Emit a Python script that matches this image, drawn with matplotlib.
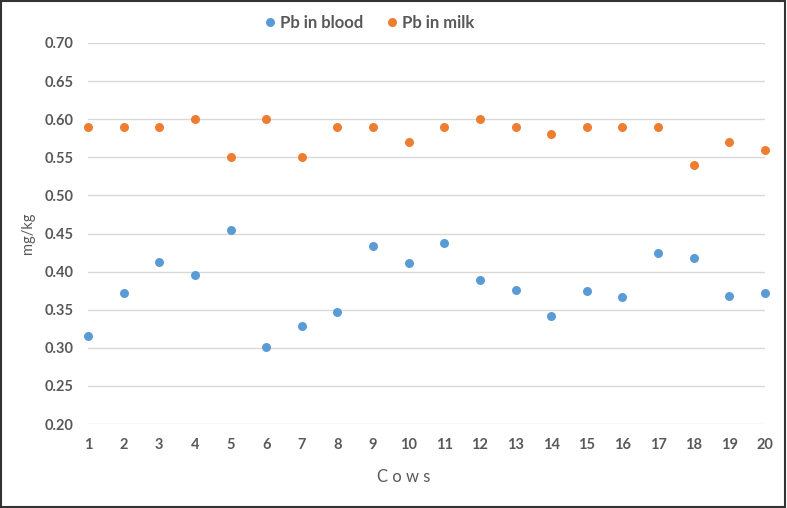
import matplotlib
matplotlib.use("Agg")
import matplotlib.pyplot as plt
from matplotlib.patches import Rectangle
from matplotlib.lines import Line2D

cows = list(range(1, 21))
pb_blood = [0.315, 0.372, 0.413, 0.395, 0.454, 0.301, 0.328, 0.347, 0.434, 0.411,
            0.438, 0.389, 0.376, 0.342, 0.375, 0.367, 0.424, 0.418, 0.368, 0.372]
pb_milk = [0.59, 0.59, 0.59, 0.60, 0.55, 0.60, 0.55, 0.59, 0.59, 0.57,
           0.59, 0.60, 0.59, 0.58, 0.59, 0.59, 0.59, 0.54, 0.57, 0.56]
yticks = [0.20, 0.25, 0.30, 0.35, 0.40, 0.45, 0.50, 0.55, 0.60, 0.65, 0.70]

blue = "#5B9BD5"
orange = "#ED7D31"
txt = "#595959"

plt.rcParams['font.family'] = ['Lato', 'DejaVu Sans']

fig = plt.figure(figsize=(7.87, 5.08), dpi=100)
ax = fig.add_axes([88/787, 1-424/508, (765-88)/787, (424-43)/508])

ax.scatter(cows, pb_blood, s=42, color=blue, zorder=3, clip_on=False, linewidths=0)
ax.scatter(cows, pb_milk, s=42, color=orange, zorder=3, clip_on=False, linewidths=0)

ax.set_xlim(1, 20)
ax.set_ylim(0.20, 0.70)
ax.set_yticks(yticks)
ax.set_yticklabels([f"{v:.2f}" for v in yticks])
ax.set_xticks(cows)
ax.grid(axis='y', color='#D9D9D9', linewidth=1)
ax.set_axisbelow(True)
for s in ax.spines.values():
    s.set_visible(False)
ax.tick_params(length=0, colors=txt, labelsize=10.5)
ax.tick_params(axis='y', pad=10.5)
ax.tick_params(axis='x', pad=10)
for lab in ax.get_xticklabels() + ax.get_yticklabels():
    lab.set_fontweight('bold')
    lab.set_color(txt)

fig.text(28/787, 1-233/508, "mg/kg", rotation=90, ha='center', va='center',
         fontsize=10.5, color=txt)
fig.text(404/787, 1-477/508, "C o w s", ha='center', va='center',
         fontsize=12, color=txt)

handles = [Line2D([], [], marker='o', linestyle='', color=blue, markersize=6.5, markeredgewidth=0),
           Line2D([], [], marker='o', linestyle='', color=orange, markersize=6.5, markeredgewidth=0)]
leg = fig.legend(handles, ["Pb in blood", "Pb in milk"], loc='center',
                 bbox_to_anchor=(368/787, 1-23/508), ncol=2, frameon=False,
                 handletextpad=0.1, columnspacing=1.2, handlelength=1.0,
                 prop={'weight': 'bold', 'size': 12})
for t in leg.get_texts():
    t.set_color(txt)

fig.patches.append(Rectangle((0.001, 0.002), 0.997, 0.996, transform=fig.transFigure,
                             fill=False, edgecolor='#333333', linewidth=1.5))

fig.savefig("out.png", dpi=100)
